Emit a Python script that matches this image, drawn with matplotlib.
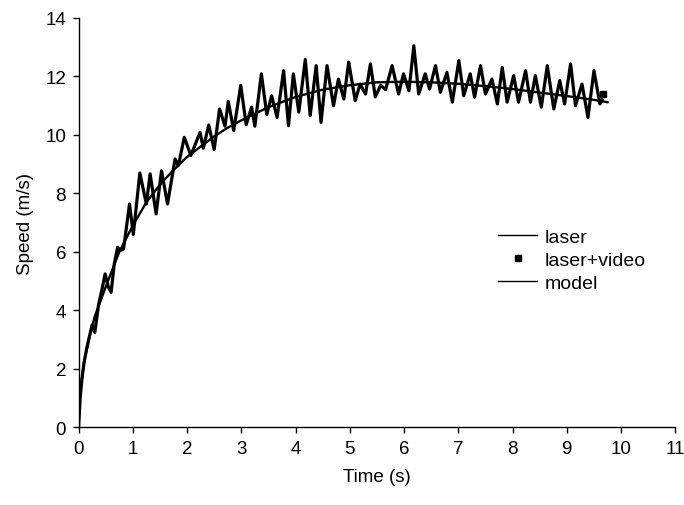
import numpy as np
import matplotlib
matplotlib.use("Agg")
import matplotlib.pyplot as plt

plt.rcParams['font.family'] = ['Liberation Sans', 'DejaVu Sans']

# laser speed trace (peaks and troughs)
laser_t = [0.00, 0.03, 0.06, 0.10, 0.15, 0.20, 0.25, 0.30, 0.37, 0.43,
           0.49, 0.55, 0.60, 0.66, 0.72, 0.76, 0.83, 0.94, 1.01, 1.13,
           1.25, 1.32, 1.43, 1.53, 1.64, 1.78, 1.84, 1.95, 2.07, 2.24,
           2.30, 2.40, 2.50, 2.60, 2.70, 2.76, 2.86, 2.99, 3.09, 3.19,
           3.25, 3.37, 3.47, 3.56, 3.66, 3.78, 3.87, 3.96, 4.06, 4.18,
           4.27, 4.38, 4.47, 4.58, 4.70, 4.79, 4.89, 4.98, 5.10, 5.19,
           5.29, 5.38, 5.47, 5.57, 5.66, 5.78, 5.90, 5.99, 6.09, 6.18,
           6.27, 6.39, 6.47, 6.58, 6.67, 6.79, 6.89, 7.01, 7.10, 7.22,
           7.30, 7.41, 7.50, 7.62, 7.72, 7.81, 7.90, 8.02, 8.11, 8.24,
           8.33, 8.42, 8.53, 8.64, 8.76, 8.87, 8.96, 9.07, 9.16, 9.28,
           9.39, 9.50, 9.61, 9.65]
laser_v = [0.0, 1.0, 1.6, 2.2, 2.7, 3.1, 3.5, 3.25, 4.2, 4.7,
           5.25, 4.8, 4.62, 5.6, 6.16, 6.05, 6.1, 7.64, 6.6, 8.7,
           7.64, 8.67, 7.3, 8.78, 7.64, 9.18, 8.95, 9.92, 9.3, 10.09,
           9.55, 10.34, 9.5, 10.89, 10.3, 11.15, 10.15, 11.7, 10.35, 10.95,
           10.3, 12.09, 10.7, 11.34, 10.6, 12.2, 10.32, 12.09, 10.78, 12.58,
           10.66, 12.37, 10.43, 12.37, 11.0, 11.91, 11.23, 12.49, 11.17, 11.74,
           11.4, 12.43, 11.3, 11.7, 11.55, 12.37, 11.4, 12.09, 11.51, 13.05,
           11.4, 12.09, 11.57, 12.37, 11.46, 12.14, 11.12, 12.54, 11.34, 12.09,
           11.29, 12.37, 11.4, 11.91, 11.06, 12.31, 11.12, 12.03, 11.12, 12.2,
           11.12, 12.03, 10.95, 12.37, 10.89, 11.86, 11.06, 12.43, 11.0, 11.74,
           10.6, 12.2, 11.06, 11.2]

# laser+video point (only the last one shows past the laser trace)
video_t = [9.67]
video_v = [11.4]

# model curve
model_t = [0.0, 0.02, 0.05, 0.1, 0.2, 0.3, 0.5, 0.75, 1.0, 1.25,
           1.5, 1.75, 2.0, 2.25, 2.5, 2.75, 3.0, 3.5, 4.0, 4.5,
           5.0, 5.5, 6.0, 6.5, 7.0, 7.5, 8.0, 8.5, 9.0, 9.5, 9.75]
model_v = [0.0, 1.0, 1.5, 2.2, 3.1, 3.8, 4.8, 6.0, 6.9, 7.7,
           8.3, 8.8, 9.25, 9.6, 9.95, 10.25, 10.5, 10.95, 11.3, 11.55,
           11.7, 11.8, 11.82, 11.8, 11.75, 11.67, 11.57, 11.45, 11.33, 11.2, 11.12]

fig = plt.figure(figsize=(6.84, 5.06), dpi=100)
ax = fig.add_axes([0.1148, 0.1532, 0.8725, 0.8093])

ax.plot(laser_t, laser_v, color='black', linewidth=2.3,
        solid_joinstyle='round', label='laser')
ax.plot(video_t, video_v, linestyle='none', marker='s', markersize=4,
        color='black', label='laser+video')
ax.plot(model_t, model_v, color='black', linewidth=1.7, label='model')

ax.set_xlim(0, 11)
ax.set_ylim(0, 14)
ax.set_xticks(range(0, 12))
ax.set_yticks(range(0, 15, 2))
ax.tick_params(direction='out', length=4, width=1, labelsize=13.5, pad=5)
for side in ['top', 'right']:
    ax.spines[side].set_visible(False)
for side in ['left', 'bottom']:
    ax.spines[side].set_linewidth(1.0)

ax.set_xlabel('Time (s)', fontsize=13.5, labelpad=8)
ax.set_ylabel('Speed (m/s)', fontsize=13.5, labelpad=8)

leg = ax.legend(loc='upper left', bbox_to_anchor=(0.69, 0.505), frameon=False,
                fontsize=14, handlelength=2.0, handletextpad=0.4,
                labelspacing=0.28, borderaxespad=0)
for line in leg.get_lines():
    line.set_linewidth(1.0)

fig.savefig('out.png', dpi=100)
